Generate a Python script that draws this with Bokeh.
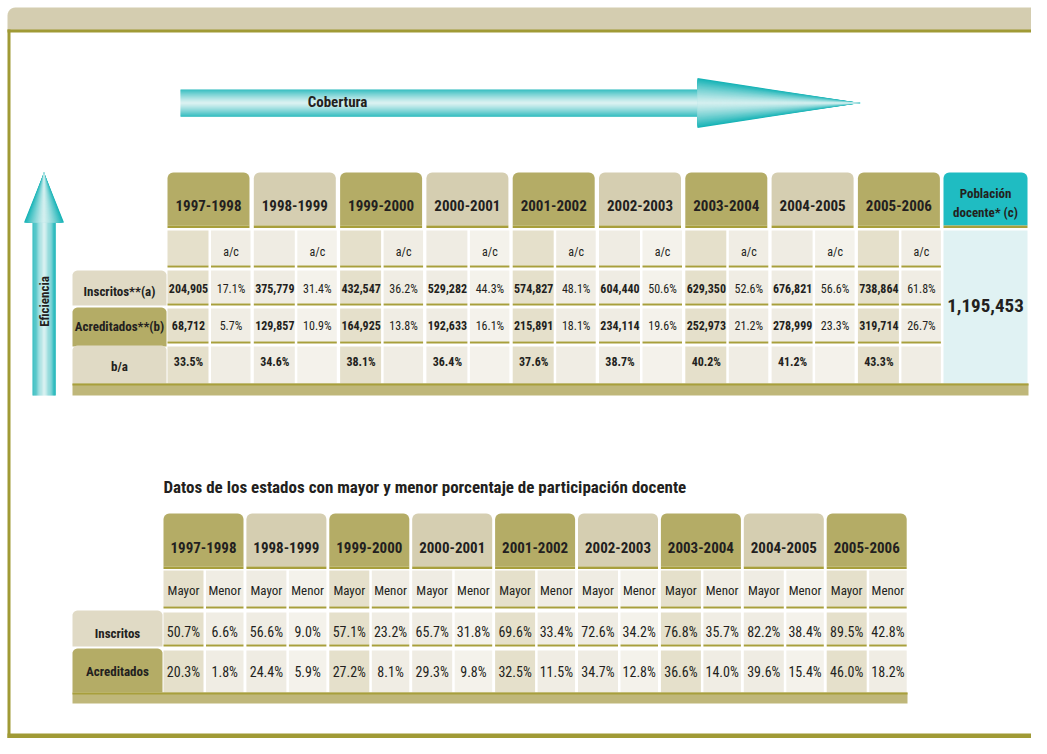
import math
from bokeh.plotting import figure
from bokeh.models import Range1d
from bokeh.core.properties import value
from bokeh.embed import file_html
from bokeh.resources import INLINE

# ---------------- data ----------------
years = ["1997-1998", "1998-1999", "1999-2000", "2000-2001", "2001-2002",
         "2002-2003", "2003-2004", "2004-2005", "2005-2006"]
inscritos = [204905, 375779, 432547, 529282, 574827, 604440, 629350, 676821, 738864]
inscritos_ac = [17.1, 31.4, 36.2, 44.3, 48.1, 50.6, 52.6, 56.6, 61.8]
acreditados = [68712, 129857, 164925, 192633, 215891, 234114, 252973, 278999, 319714]
acreditados_ac = [5.7, 10.9, 13.8, 16.1, 18.1, 19.6, 21.2, 23.3, 26.7]
b_a = [33.5, 34.6, 38.1, 36.4, 37.6, 38.7, 40.2, 41.2, 43.3]
poblacion_docente = 1195453
row_labels_top = ["Inscritos**(a)", "Acreditados**(b)", "b/a"]

ins_mayor = [50.7, 56.6, 57.1, 65.7, 69.6, 72.6, 76.8, 82.2, 89.5]
ins_menor = [6.6, 9.0, 23.2, 31.8, 33.4, 34.2, 35.7, 38.4, 42.8]
acr_mayor = [20.3, 24.4, 27.2, 29.3, 32.5, 34.7, 36.6, 39.6, 46.0]
acr_menor = [1.8, 5.9, 8.1, 9.8, 11.5, 12.8, 14.0, 15.4, 18.2]
row_labels_bottom = ["Inscritos", "Acreditados"]
sub_labels_bottom = ["Mayor", "Menor"]

title_bottom = "Datos de los estados con mayor y menor porcentaje de participación docente"

# ---------------- style ----------------
FONT = value("'Roboto Condensed', 'Liberation Sans Narrow', Roboto, sans-serif")
TXT = "#231f20"
OLIVE = "#b4ac66"
BEIGE = "#d5ceb1"
ULINE = "#a89f3c"
DARK_CELL = "#e5e0cb"
LIGHT_CELL = "#f0ede4"
LIGHT_CELL2 = "#efece3"
LIGHT_CELL3 = "#f4f2eb"
LABEL_BEIGE = "#e0dac5"
BAND = "#bfb77a"
FRAME = "#a09a35"
BANNER = "#d4cdb0"
TEAL = "#1fbcc2"
CYAN_CELL = "#e0f2f3"
ARROW_EDGE = (23, 179, 182)
ARROW_MID = (214, 240, 240)


def mix(t):
    t = max(0.0, min(1.0, t))
    c = [round(ARROW_MID[k] + (ARROW_EDGE[k] - ARROW_MID[k]) * t) for k in range(3)]
    return "#%02x%02x%02x" % tuple(c)


def rtop(x0, x1, y0, y1, r, n=6):
    xs, ys = [x0], [y1]
    for k in range(n + 1):
        a = math.pi + (math.pi / 2) * k / n
        xs.append(x0 + r + r * math.cos(a))
        ys.append(y0 + r + r * math.sin(a))
    for k in range(n + 1):
        a = 1.5 * math.pi + (math.pi / 2) * k / n
        xs.append(x1 - r + r * math.cos(a))
        ys.append(y0 + r + r * math.sin(a))
    xs.append(x1)
    ys.append(y1)
    return xs, ys


p = figure(width=1031, height=738, x_range=Range1d(0, 1031), y_range=Range1d(738, 0),
           output_backend="svg", toolbar_location=None, min_border=0)
p.axis.visible = False
p.grid.visible = False
p.outline_line_color = None
p.background_fill_color = "white"


def quads(l, r, t, b, colors):
    p.quad(left=l, right=r, top=t, bottom=b, fill_color=colors, line_color=None)


def texts(x, y, t, size, bold=False, align="center", angle=0):
    p.text(x=x, y=y, text=t, text_font=FONT, text_font_size=value(f"{size}px"),
           text_font_style="bold" if bold else "normal", text_color=TXT,
           text_align=align, text_baseline="middle", angle=angle)


# ---------------- frame ----------------
bx, by = rtop(7, 1040, 7, 30, 8)
p.patch(bx, by, fill_color=BANNER, line_color=None)
quads([7], [1040], [29], [32], [FRAME])
quads([7], [10], [29], [738], [FRAME])
quads([7], [1040], [733], [738], [FRAME])

# ---------------- Cobertura arrow ----------------
N = 27
y_top, y_bot, bar_x0, head_x0, tip_x = 89, 116, 180, 697, 860
cy = (y_top + y_bot) / 2
h = (y_bot - y_top) / N
ls, rs, ts, bs, cs = [], [], [], [], []
for k in range(N):
    ya = y_top + k * h
    d = abs((ya + h / 2) - cy) / ((y_bot - y_top) / 2)
    ls.append(bar_x0); rs.append(head_x0 + 1); ts.append(ya); bs.append(ya + h + 0.3)
    cs.append(mix(d ** 1.2))
quads(ls, rs, ts, bs, cs)
H = 25
xs, ys, cs = [], [], []
for k in range(N):
    f = 1 - k / N
    xs.append([head_x0, head_x0, tip_x]); ys.append([cy - H * f, cy + H * f, cy])
    cs.append(mix(f ** 1.2))
p.patches(xs, ys, fill_color=cs, line_color=None)
texts([337], [101], ["Cobertura"], 15, bold=True)

# ---------------- Eficiencia arrow ----------------
x_l, x_r, bar_y0, head_y0, tip_y = 32, 55, 395, 222, 172
cx = (x_l + x_r) / 2
w = (x_r - x_l) / N
ls, rs, ts, bs, cs = [], [], [], [], []
for k in range(N):
    xa = x_l + k * w
    d = abs((xa + w / 2) - cx) / ((x_r - x_l) / 2)
    ls.append(xa); rs.append(xa + w + 0.3); ts.append(head_y0 - 1); bs.append(bar_y0)
    cs.append(mix(d ** 1.2))
quads(ls, rs, ts, bs, cs)
HW2 = 20
xs, ys, cs = [], [], []
for k in range(N):
    f = 1 - k / N
    xs.append([cx - HW2 * f, cx + HW2 * f, cx]); ys.append([head_y0, head_y0, tip_y])
    cs.append(mix(f ** 1.2))
p.patches(xs, ys, fill_color=cs, line_color=None)
texts([44], [301], ["Eficiencia"], 13, bold=True, angle=math.pi / 2)

# ---------------- top table ----------------
TX0, TP, TW = 167, 86.3, 82
hdr_t, hdr_b = 172, 225
rows_top = [(230, 265), (270, 303), (308, 341), (346, 383)]

hx, hy, hc = [], [], []
for i, yr in enumerate(years):
    x0 = TX0 + i * TP
    a, b = rtop(x0, x0 + TW, hdr_t, hdr_b, 6)
    hx.append(a); hy.append(b); hc.append(OLIVE if i % 2 == 0 else BEIGE)
a, b = rtop(943, 1027, hdr_t, hdr_b, 6)
hx.append(a); hy.append(b); hc.append(TEAL)
p.patches(hx, hy, fill_color=hc, line_color=None)

ls, rs = [], []
for i in range(len(years)):
    x0 = TX0 + i * TP
    ls.append(x0); rs.append(x0 + TW)
ls.append(943); rs.append(1027)
quads(ls, rs, [hdr_b] * len(ls), [hdr_b + 2.5] * len(ls), [ULINE] * len(ls))

ls, rs, ts, bs, cs = [], [], [], [], []
uls, urs, uts = [], [], []
for i in range(len(years)):
    x0 = TX0 + i * TP
    for j, (t, b) in enumerate(rows_top):
        if i % 2 == 0:
            cl, cr = DARK_CELL, LIGHT_CELL
        else:
            cl, cr = LIGHT_CELL2, LIGHT_CELL3
        ls += [x0, x0 + 43.5]; rs += [x0 + 41, x0 + 83]; ts += [t, t]; bs += [b, b]; cs += [cl, cr]
        if j < 3:
            uls += [x0, x0 + 43.5]; urs += [x0 + 41, x0 + 83]; uts += [b, b]
quads(ls, rs, ts, bs, cs)
quads(uls, urs, uts, [u + 2 for u in uts], [ULINE] * len(uls))
quads([943], [1027], [230], [383], [CYAN_CELL])

lab_rows = [(270, 305, LABEL_BEIGE), (307, 346, OLIVE), (345, 383, LABEL_BEIGE)]
lx, ly, lc = [], [], []
for (t, b, c) in lab_rows:
    a, bb = rtop(72, 166, t, b, 5)
    lx.append(a); ly.append(bb); lc.append(c)
p.patches(lx, ly, fill_color=lc, line_color=None)

quads([72], [1028], [383], [395], [BAND])
quads([72], [1028], [383], [385], [ULINE])

n = len(years)
texts([TX0 + i * TP + TW / 2 for i in range(n)], [205] * n, years, 15, bold=True)
texts([985, 985], [193, 212], ["Población", "docente* (c)"], 13, bold=True)
texts([TX0 + i * TP + 63.5 for i in range(n)], [251] * n, ["a/c"] * n, 12)
texts([TX0 + i * TP + 21 for i in range(n)], [288] * n, [f"{v:,}" for v in inscritos], 12, bold=True)
texts([TX0 + i * TP + 63.5 for i in range(n)], [288] * n, [f"{v:.1f}%" for v in inscritos_ac], 12)
texts([TX0 + i * TP + 21 for i in range(n)], [325] * n, [f"{v:,}" for v in acreditados], 12, bold=True)
texts([TX0 + i * TP + 63.5 for i in range(n)], [325] * n, [f"{v:.1f}%" for v in acreditados_ac], 12)
texts([TX0 + i * TP + 21 for i in range(n)], [361] * n, [f"{v:.1f}%" for v in b_a], 12, bold=True)
texts([119, 119, 119], [291, 326, 366], row_labels_top, 13, bold=True)
texts([985], [305], [f"{poblacion_docente:,}"], 19, bold=True)

# ---------------- bottom table ----------------
texts([163], [486], [title_bottom], 17, bold=True, align="left")
BX0, BP, BW = 163, 82.9, 80
bh_t, bh_b = 513, 566
rows_bot = [(570, 606), (612, 644), (650, 692)]

hx, hy, hc = [], [], []
for i in range(n):
    x0 = BX0 + i * BP
    a, b = rtop(x0, x0 + BW, bh_t, bh_b, 6)
    hx.append(a); hy.append(b); hc.append(OLIVE if i % 2 == 0 else BEIGE)
p.patches(hx, hy, fill_color=hc, line_color=None)
quads([BX0 + i * BP for i in range(n)], [BX0 + i * BP + BW for i in range(n)],
      [bh_b] * n, [bh_b + 2.5] * n, [ULINE] * n)

ls, rs, ts, bs, cs = [], [], [], [], []
uls, urs, uts = [], [], []
for i in range(n):
    x0 = BX0 + i * BP
    for j, (t, b) in enumerate(rows_bot):
        if i % 2 == 0:
            cl, cr = DARK_CELL, LIGHT_CELL
        else:
            cl, cr = LIGHT_CELL2, LIGHT_CELL3
        ls += [x0, x0 + 42.5]; rs += [x0 + 40, x0 + 80]; ts += [t, t]; bs += [b, b]; cs += [cl, cr]
        if j < 2:
            uls += [x0, x0 + 42.5]; urs += [x0 + 40, x0 + 80]; uts += [b, b]
quads(ls, rs, ts, bs, cs)
quads(uls, urs, uts, [u + 2 for u in uts], [ULINE] * len(uls))

lx, ly, lc = [], [], []
for (t, b, c) in [(610, 646, LABEL_BEIGE), (648, 692, OLIVE)]:
    a, bb = rtop(72, 162, t, b, 5)
    lx.append(a); ly.append(bb); lc.append(c)
p.patches(lx, ly, fill_color=lc, line_color=None)
quads([72], [907], [692], [703], [BAND])
quads([72], [907], [692], [694], [ULINE])

texts([BX0 + i * BP + BW / 2 for i in range(n)], [547] * n, years, 15, bold=True)
texts([BX0 + i * BP + 20 for i in range(n)], [590] * n, [sub_labels_bottom[0]] * n, 13)
texts([BX0 + i * BP + 61.25 for i in range(n)], [590] * n, [sub_labels_bottom[1]] * n, 13)
texts([BX0 + i * BP + 20 for i in range(n)], [631] * n, [f"{v:.1f}%" for v in ins_mayor], 14)
texts([BX0 + i * BP + 61.25 for i in range(n)], [631] * n, [f"{v:.1f}%" for v in ins_menor], 14)
texts([BX0 + i * BP + 20 for i in range(n)], [671] * n, [f"{v:.1f}%" for v in acr_mayor], 14)
texts([BX0 + i * BP + 61.25 for i in range(n)], [671] * n, [f"{v:.1f}%" for v in acr_menor], 14)
texts([117, 117], [633, 671], row_labels_bottom, 13, bold=True)

open("out.html", "w").write(file_html(p, INLINE))
